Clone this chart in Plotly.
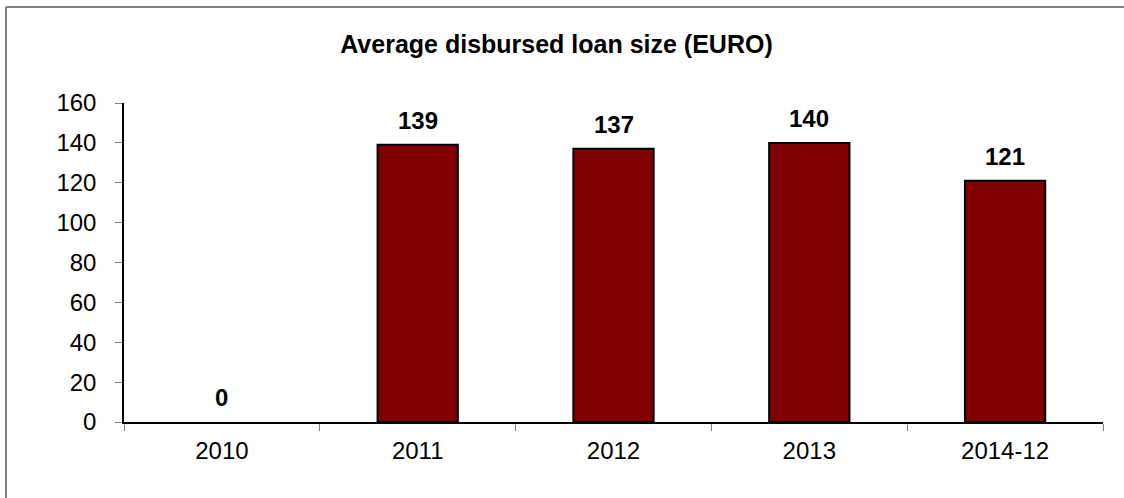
import plotly.graph_objects as go

categories = ["2010", "2011", "2012", "2013", "2014-12"]
values = [0, 139, 137, 140, 121]
labels = ["0", "139", "137", "140", "121"]
y_ticks = [0, 20, 40, 60, 80, 100, 120, 140, 160]

W, H = 1124, 498
L, R, T, B = 124, 21, 103, 76
pw = W - L - R
ph = H - T - B
FONT = "Liberation Sans, Arial"

fig = go.Figure()
fig.add_trace(go.Bar(
    x=categories, y=values, width=0.41,
    marker=dict(color="#800000",
                line=dict(color="#000000", width=[2 if v > 0 else 0 for v in values])),
    hoverinfo="skip",
))

for i, (v, t) in enumerate(zip(values, labels)):
    fig.add_annotation(x=i, y=v, xref="x", yref="y", text="<b>" + t + "</b>", showarrow=False,
                       yanchor="bottom", xanchor="center", yshift=9,
                       font=dict(family=FONT, size=24, color="#000"))

# outer frame (left and top edges, gray)
xl = (6 - L) / pw
yt = (H - B - 7) / ph
fig.add_shape(type="line", xref="paper", yref="paper", x0=xl, x1=xl, y0=-0.5, y1=yt,
              line=dict(color="#808080", width=2))
fig.add_shape(type="line", xref="paper", yref="paper", x0=xl, x1=1.2, y0=yt, y1=yt,
              line=dict(color="#808080", width=2))

fig.update_layout(
    width=W, height=H,
    margin=dict(l=L, r=R, t=T, b=B),
    paper_bgcolor="white", plot_bgcolor="white",
    showlegend=False,
    font=dict(family=FONT, size=24, color="#000"),
    title=dict(text="<b>Average disbursed loan size (EURO)</b>", xref="container", x=556.5 / W,
               xanchor="center", yref="container", y=1 - 44 / H, yanchor="middle",
               font=dict(size=25, family=FONT, color="#000")),
    xaxis=dict(type="category", categoryorder="array", categoryarray=categories,
               range=[-0.5, len(categories) - 0.5], showline=True, linecolor="#000", linewidth=1.5,
               ticks="outside", tickson="boundaries", ticklen=7, tickcolor="#808080", tickwidth=1,
               showgrid=False, zeroline=False, ticklabelstandoff=6, fixedrange=True),
    yaxis=dict(range=[0, 160], tickvals=y_ticks, showline=True, linecolor="#000", linewidth=1.5,
               ticks="outside", ticklen=7, tickcolor="#808080", tickwidth=1,
               showgrid=False, zeroline=False, ticklabelstandoff=14, fixedrange=True),
)

fig.write_html("out.html")
